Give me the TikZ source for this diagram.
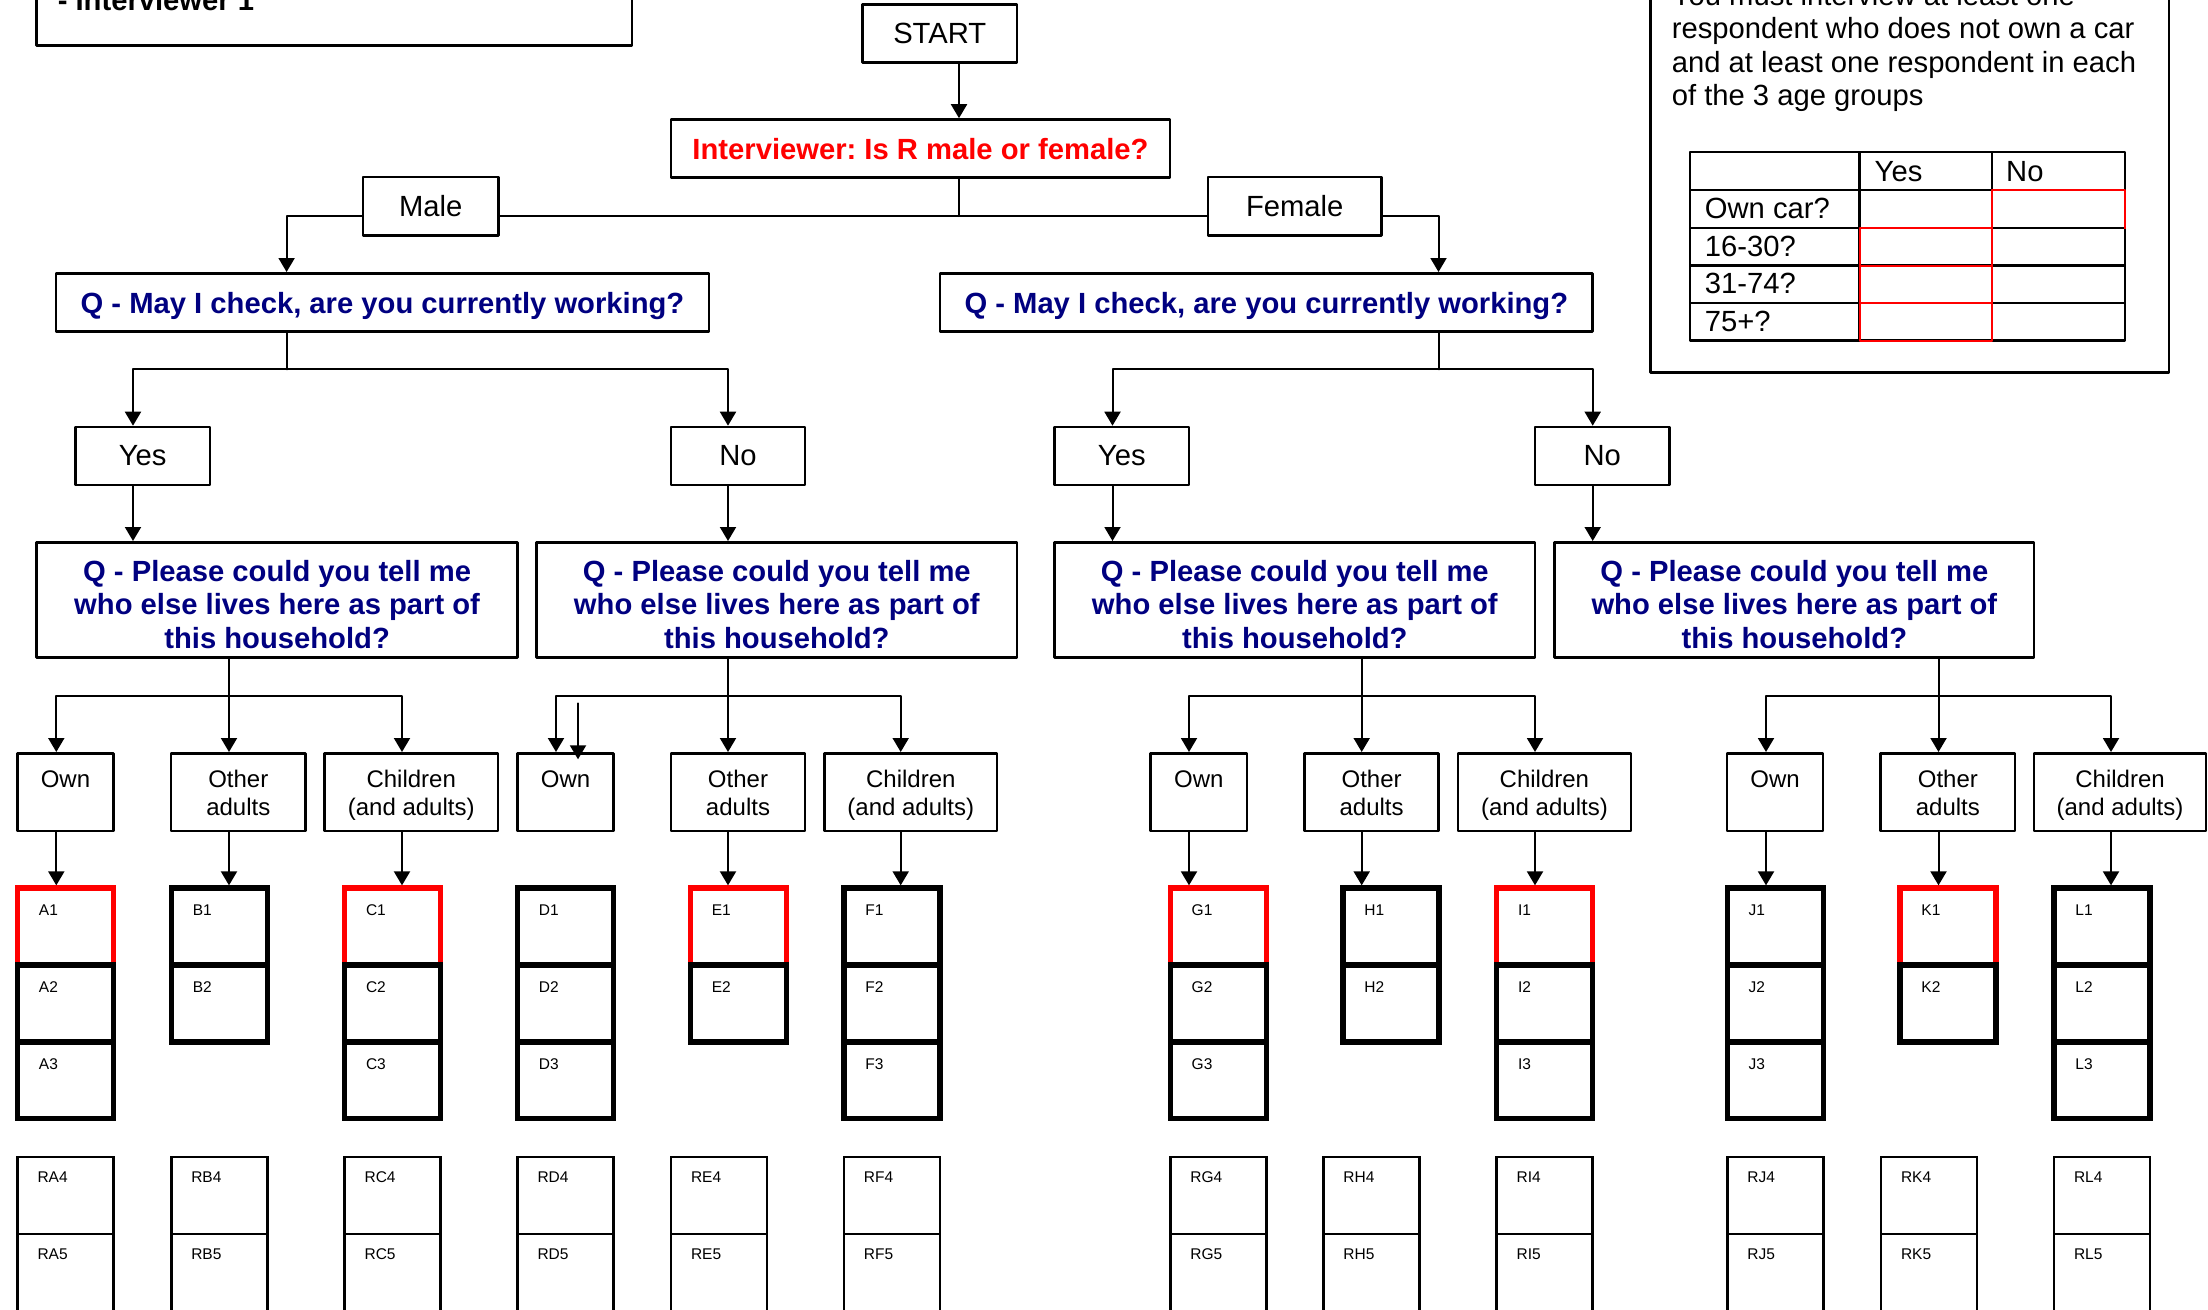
\documentclass[tikz,border=0pt]{standalone}
\usepackage{fontspec}
\setmainfont{Liberation Sans}
\usetikzlibrary{arrows.meta}
\definecolor{navy}{RGB}{0,0,128}
\frenchspacing

\begin{document}
\begin{tikzpicture}[line cap=round,line join=round,>={Triangle[width=16pt,length=14pt]},x=1pt,y=-1pt,
	box/.style={draw,line width=2.6pt,inner sep=0pt,align=center,font=\fontsize{29.2}{33.5}\selectfont},
	qbox/.style={box,text=navy,text depth=0pt,font=\bfseries\fontsize{29.2}{33.5}\selectfont},
	pbox/.style={qbox,text height=96.8pt,minimum height=115.4pt},
	catbox/.style={box,minimum height=77.7pt,text height=47pt,text depth=0pt,font=\fontsize{24}{28}\selectfont},
	cell/.style={draw,line width=5.5pt,line join=miter,inner sep=0pt,minimum width=96pt,minimum height=76.8pt},
	rcell/.style={draw,line width=2.4pt,line join=miter,inner sep=0pt,minimum width=96pt,minimum height=77pt},
	tag/.style={anchor=west,inner sep=0pt,font=\fontsize{15.5}{18}\selectfont},
	txt/.style={anchor=base west,inner sep=0pt,font=\fontsize{29.2}{33.5}\selectfont},
	link/.style={line width=2pt,->},
	wire/.style={line width=2pt},
	tline/.style={line width=2.7pt,line cap=rect},
	tred/.style={line width=2.4pt,draw=red,line cap=rect}]
		\useasboundingbox (0,0) rectangle (2208,1309);
		\clip (0,0) rectangle (2208,1309);
		% frames cut by the page edge
		\draw [line width=2.6pt] (36.6,-20) rectangle (632,45.7);
		\node[txt,font=\bfseries\fontsize{29.2}{33.5}\selectfont] (who) at (57.6,10) {- Interviewer 1};
		\draw [line width=2.6pt] (1650.5,-20) rectangle (2168.8,372.3);
		\node[txt] (rule1) at (1671.6,5.5) {You must interview at least one};
		\node[txt] (rule2) at (1671.6,38.8) {respondent who does not own a car};
		\node[txt] (rule3) at (1671.6,72.1) {and at least one respondent in each};
		\node[txt] (rule4) at (1671.6,105.4) {of the 3 age groups};
		% quota table
		\draw [tline] (1690,152) rectangle (2125,340.7);
		\draw [tline] (1859.8,152) -- (1859.8,340.7);
		\draw [tline] (1992,152) -- (1992,340.7);
		\draw [tline] (1690,190) -- (2125,190);
		\draw [tline] (1690,228) -- (2125,228);
		\draw [tline] (1690,265.7) -- (2125,265.7);
		\draw [tline] (1690,303) -- (2125,303);
		\draw [tred] (1992,228) -- (1992,190) -- (2125,190) -- (2125,228);
		\draw [tred] (1859.8,228) rectangle (1992,340.7);
		\draw [tred] (1859.8,265.7) -- (1992,265.7);
		\draw [tred] (1859.8,303) -- (1992,303);
		\node[txt] (tyes) at (1874.5,181) {Yes};
		\node[txt] (tno) at (2006,181) {No};
		\node[txt] (tcar) at (1704.7,218.3) {Own car?};
		\node[txt] (tage1) at (1704.7,256) {16-30?};
		\node[txt] (tage2) at (1704.7,293.3) {31-74?};
		\node[txt] (tage3) at (1704.7,331) {75+?};
		% questions
		\node[box,minimum width=154.5pt,minimum height=57.6pt] (start) at (939.75,33.5) {START};
		\node[box,text=red,font=\bfseries\fontsize{29.2}{33.5}\selectfont,minimum width=499pt,minimum height=58.2pt] (ask) at (920.5,148.6) {Interviewer: Is R male or female?};
		\node[box,minimum width=135.6pt,minimum height=58.7pt] (male) at (430.8,206.35) {Male};
		\node[box,minimum width=173.5pt,minimum height=58.7pt] (female) at (1294.75,206.35) {Female};
		\node[qbox,minimum width=653pt,minimum height=58.4pt] (qm) at (382.5,302.5) {Q - May I check, are you currently working?};
		\node[qbox,minimum width=652.7pt,minimum height=58.4pt] (qf) at (1266.35,302.5) {Q - May I check, are you currently working?};
		\node[box,minimum width=134.6pt,minimum height=58pt] (yes1) at (142.7,456) {Yes};
		\node[box,minimum width=134pt,minimum height=58pt] (no1) at (738,456) {No};
		\node[box,minimum width=134.4pt,minimum height=58pt] (yes2) at (1121.8,456) {Yes};
		\node[box,minimum width=134.5pt,minimum height=58pt] (no2) at (1602.25,456) {No};
		\node[pbox,minimum width=481pt] (p1) at (277.1,600) {Q - Please could you tell me\\who else lives here as part of\\this household?};
		\node[pbox,minimum width=480.4pt] (p2) at (776.8,600) {Q - Please could you tell me\\who else lives here as part of\\this household?};
		\node[pbox,minimum width=480.4pt] (p3) at (1294.8,600) {Q - Please could you tell me\\who else lives here as part of\\this household?};
		\node[pbox,minimum width=479.3pt] (p4) at (1794.35,600) {Q - Please could you tell me\\who else lives here as part of\\this household?};
		% household members
		\node[catbox,minimum width=95.8pt] (own1) at (65.5,792.15) {Own\\\mbox{}};
		\node[catbox,minimum width=134.6pt] (oth1) at (238.3,792.15) {Other\\adults};
		\node[catbox,minimum width=173.3pt] (chd1) at (411.25,792.15) {Children\\(and adults)};
		\node[catbox,minimum width=95.8pt] (own2) at (565.5,792.15) {Own\\\mbox{}};
		\node[catbox,minimum width=134pt] (oth2) at (738,792.15) {Other\\adults};
		\node[catbox,minimum width=172.4pt] (chd2) at (910.8,792.15) {Children\\(and adults)};
		\node[catbox,minimum width=96.5pt] (own3) at (1198.75,792.15) {Own\\\mbox{}};
		\node[catbox,minimum width=133.8pt] (oth3) at (1371.6,792.15) {Other\\adults};
		\node[catbox,minimum width=172.8pt] (chd3) at (1544.4,792.15) {Children\\(and adults)};
		\node[catbox,minimum width=96pt] (own4) at (1775,792.15) {Own\\\mbox{}};
		\node[catbox,minimum width=134.3pt] (oth4) at (1947.85,792.15) {Other\\adults};
		\node[catbox,minimum width=172pt] (chd4) at (2120,792.15) {Children\\(and adults)};
		% junction points
		\coordinate (split) at (959,216);
		\coordinate (mdrop) at (286.6,216);
		\coordinate (fdrop) at (1438.5,216);
		\coordinate (mfork) at (286.6,369.3);
		\coordinate (myes) at (133,369.3);
		\coordinate (mno) at (728,369.3);
		\coordinate (ffork) at (1438.5,369.3);
		\coordinate (fyes) at (1112.5,369.3);
		\coordinate (fno) at (1592.7,369.3);
		\coordinate (fk1) at (229,695.7);
		\coordinate (fk1l) at (56.3,695.7);
		\coordinate (fk1r) at (402,695.7);
		\coordinate (fk2) at (728,695.7);
		\coordinate (fk2l) at (556,695.7);
		\coordinate (fk2r) at (900.7,695.7);
		\coordinate (fk3) at (1361.7,695.7);
		\coordinate (fk3l) at (1189,695.7);
		\coordinate (fk3r) at (1535,695.7);
		\coordinate (fk4) at (1938.5,695.7);
		\coordinate (fk4l) at (1766,695.7);
		\coordinate (fk4r) at (2111,695.7);
		\coordinate (st0) at (578,703.3);
		\coordinate (st1) at (578,759.3);
		% connectors
		\draw [link] (start.south -| split) -- (ask.north -| split);
		\draw [wire] (ask.south -| split) -- (split);
		\draw [wire] (male.east |- split) -- (female.west |- split);
		\draw [link] (male.west |- mdrop) -- (mdrop) -- (qm.north -| mdrop);
		\draw [link] (female.east |- fdrop) -- (fdrop) -- (qf.north -| fdrop);
		\draw [wire] (qm.south -| mfork) -- (mfork);
		\draw [link] (mfork) -- (myes) -- (yes1.north -| myes);
		\draw [link] (mfork) -- (mno) -- (no1.north -| mno);
		\draw [wire] (qf.south -| ffork) -- (ffork);
		\draw [link] (ffork) -- (fyes) -- (yes2.north -| fyes);
		\draw [link] (ffork) -- (fno) -- (no2.north -| fno);
		\draw [link] (yes1.south -| myes) -- (p1.north -| myes);
		\draw [link] (no1.south -| mno) -- (p2.north -| mno);
		\draw [link] (yes2.south -| fyes) -- (p3.north -| fyes);
		\draw [link] (no2.south -| fno) -- (p4.north -| fno);
		\draw [link] (p1.south -| fk1) -- (oth1.north -| fk1);
		\draw [link] (fk1) -- (fk1l) -- (own1.north -| fk1l);
		\draw [link] (fk1) -- (fk1r) -- (chd1.north -| fk1r);
		\draw [link] (p2.south -| fk2) -- (oth2.north -| fk2);
		\draw [link] (fk2) -- (fk2l) -- (own2.north -| fk2l);
		\draw [link] (fk2) -- (fk2r) -- (chd2.north -| fk2r);
		\draw [link] (st0) -- (st1);
		\draw [link] (p3.south -| fk3) -- (oth3.north -| fk3);
		\draw [link] (fk3) -- (fk3l) -- (own3.north -| fk3l);
		\draw [link] (fk3) -- (fk3r) -- (chd3.north -| fk3r);
		\draw [link] (p4.south -| fk4) -- (oth4.north -| fk4);
		\draw [link] (fk4) -- (fk4l) -- (own4.north -| fk4l);
		\draw [link] (fk4) -- (fk4r) -- (chd4.north -| fk4r);
		% tally cells
		\node[cell,draw=red] (a1) at (65.5,926.5) {};
		\node[cell] (a2) at (65.5,1003.4) {};
		\node[cell] (a3) at (65.5,1080.1) {};
		\node[cell] (b1) at (219.35,926.5) {};
		\node[cell] (b2) at (219.35,1003.4) {};
		\node[cell,draw=red] (c1) at (392.6,926.5) {};
		\node[cell] (c2) at (392.6,1003.4) {};
		\node[cell] (c3) at (392.6,1080.1) {};
		\node[cell] (d1) at (565.5,926.5) {};
		\node[cell] (d2) at (565.5,1003.4) {};
		\node[cell] (d3) at (565.5,1080.1) {};
		\node[cell,draw=red] (e1) at (738.3,926.5) {};
		\node[cell] (e2) at (738.3,1003.4) {};
		\node[cell] (f1) at (891.85,926.5) {};
		\node[cell] (f2) at (891.85,1003.4) {};
		\node[cell] (f3) at (891.85,1080.1) {};
		\node[cell,draw=red] (g1) at (1218.25,926.5) {};
		\node[cell] (g2) at (1218.25,1003.4) {};
		\node[cell] (g3) at (1218.25,1080.1) {};
		\node[cell] (h1) at (1391,926.5) {};
		\node[cell] (h2) at (1391,1003.4) {};
		\node[cell,draw=red] (i1) at (1544.55,926.5) {};
		\node[cell] (i2) at (1544.55,1003.4) {};
		\node[cell] (i3) at (1544.55,1080.1) {};
		\node[cell] (j1) at (1775.25,926.5) {};
		\node[cell] (j2) at (1775.25,1003.4) {};
		\node[cell] (j3) at (1775.25,1080.1) {};
		\node[cell,draw=red] (k1) at (1948,926.5) {};
		\node[cell] (k2) at (1948,1003.4) {};
		\node[cell] (l1) at (2102,926.5) {};
		\node[cell] (l2) at (2102,1003.4) {};
		\node[cell] (l3) at (2102,1080.1) {};
		\draw [link] (own1.south -| fk1l) -- (a1.north -| fk1l);
		\draw [link] (oth1.south -| fk1) -- (b1.north -| fk1);
		\draw [link] (chd1.south -| fk1r) -- (c1.north -| fk1r);
		\draw [link] (oth2.south -| fk2) -- (e1.north -| fk2);
		\draw [link] (chd2.south -| fk2r) -- (f1.north -| fk2r);
		\draw [link] (own3.south -| fk3l) -- (g1.north -| fk3l);
		\draw [link] (oth3.south -| fk3) -- (h1.north -| fk3);
		\draw [link] (chd3.south -| fk3r) -- (i1.north -| fk3r);
		\draw [link] (own4.south -| fk4l) -- (j1.north -| fk4l);
		\draw [link] (oth4.south -| fk4) -- (k1.north -| fk4);
		\draw [link] (chd4.south -| fk4r) -- (l1.north -| fk4r);
		\node[tag] (a1t) at ([shift={(24,25)}]a1.north west) {A1};
		\node[tag] (a2t) at ([shift={(24,25)}]a2.north west) {A2};
		\node[tag] (a3t) at ([shift={(24,25)}]a3.north west) {A3};
		\node[tag] (b1t) at ([shift={(24,25)}]b1.north west) {B1};
		\node[tag] (b2t) at ([shift={(24,25)}]b2.north west) {B2};
		\node[tag] (c1t) at ([shift={(24,25)}]c1.north west) {C1};
		\node[tag] (c2t) at ([shift={(24,25)}]c2.north west) {C2};
		\node[tag] (c3t) at ([shift={(24,25)}]c3.north west) {C3};
		\node[tag] (d1t) at ([shift={(24,25)}]d1.north west) {D1};
		\node[tag] (d2t) at ([shift={(24,25)}]d2.north west) {D2};
		\node[tag] (d3t) at ([shift={(24,25)}]d3.north west) {D3};
		\node[tag] (e1t) at ([shift={(24,25)}]e1.north west) {E1};
		\node[tag] (e2t) at ([shift={(24,25)}]e2.north west) {E2};
		\node[tag] (f1t) at ([shift={(24,25)}]f1.north west) {F1};
		\node[tag] (f2t) at ([shift={(24,25)}]f2.north west) {F2};
		\node[tag] (f3t) at ([shift={(24,25)}]f3.north west) {F3};
		\node[tag] (g1t) at ([shift={(24,25)}]g1.north west) {G1};
		\node[tag] (g2t) at ([shift={(24,25)}]g2.north west) {G2};
		\node[tag] (g3t) at ([shift={(24,25)}]g3.north west) {G3};
		\node[tag] (h1t) at ([shift={(24,25)}]h1.north west) {H1};
		\node[tag] (h2t) at ([shift={(24,25)}]h2.north west) {H2};
		\node[tag] (i1t) at ([shift={(24,25)}]i1.north west) {I1};
		\node[tag] (i2t) at ([shift={(24,25)}]i2.north west) {I2};
		\node[tag] (i3t) at ([shift={(24,25)}]i3.north west) {I3};
		\node[tag] (j1t) at ([shift={(24,25)}]j1.north west) {J1};
		\node[tag] (j2t) at ([shift={(24,25)}]j2.north west) {J2};
		\node[tag] (j3t) at ([shift={(24,25)}]j3.north west) {J3};
		\node[tag] (k1t) at ([shift={(24,25)}]k1.north west) {K1};
		\node[tag] (k2t) at ([shift={(24,25)}]k2.north west) {K2};
		\node[tag] (l1t) at ([shift={(24,25)}]l1.north west) {L1};
		\node[tag] (l2t) at ([shift={(24,25)}]l2.north west) {L2};
		\node[tag] (l3t) at ([shift={(24,25)}]l3.north west) {L3};
		% reserve cells
		\node[rcell] (ra4) at (65.5,1195.2) {};
		\node[rcell] (ra5) at (65.5,1272.2) {};
		\node[rcell] (rb4) at (219.3,1195.2) {};
		\node[rcell] (rb5) at (219.3,1272.2) {};
		\node[rcell] (rc4) at (392.6,1195.2) {};
		\node[rcell] (rc5) at (392.6,1272.2) {};
		\node[rcell] (rd4) at (565.5,1195.2) {};
		\node[rcell] (rd5) at (565.5,1272.2) {};
		\node[rcell] (re4) at (719,1195.2) {};
		\node[rcell] (re5) at (719,1272.2) {};
		\node[rcell] (rf4) at (891.85,1195.2) {};
		\node[rcell] (rf5) at (891.85,1272.2) {};
		\node[rcell] (rg4) at (1218.4,1195.2) {};
		\node[rcell] (rg5) at (1218.4,1272.2) {};
		\node[rcell] (rh4) at (1371.35,1195.2) {};
		\node[rcell] (rh5) at (1371.35,1272.2) {};
		\node[rcell] (ri4) at (1544.55,1195.2) {};
		\node[rcell] (ri5) at (1544.55,1272.2) {};
		\node[rcell] (rj4) at (1775.3,1195.2) {};
		\node[rcell] (rj5) at (1775.3,1272.2) {};
		\node[rcell] (rk4) at (1929,1195.2) {};
		\node[rcell] (rk5) at (1929,1272.2) {};
		\node[rcell] (rl4) at (2102,1195.2) {};
		\node[rcell] (rl5) at (2102,1272.2) {};
		\node[tag] (ra4t) at ([shift={(21,22)}]ra4.north west) {RA4};
		\node[tag] (ra5t) at ([shift={(21,22)}]ra5.north west) {RA5};
		\node[tag] (rb4t) at ([shift={(21,22)}]rb4.north west) {RB4};
		\node[tag] (rb5t) at ([shift={(21,22)}]rb5.north west) {RB5};
		\node[tag] (rc4t) at ([shift={(21,22)}]rc4.north west) {RC4};
		\node[tag] (rc5t) at ([shift={(21,22)}]rc5.north west) {RC5};
		\node[tag] (rd4t) at ([shift={(21,22)}]rd4.north west) {RD4};
		\node[tag] (rd5t) at ([shift={(21,22)}]rd5.north west) {RD5};
		\node[tag] (re4t) at ([shift={(21,22)}]re4.north west) {RE4};
		\node[tag] (re5t) at ([shift={(21,22)}]re5.north west) {RE5};
		\node[tag] (rf4t) at ([shift={(21,22)}]rf4.north west) {RF4};
		\node[tag] (rf5t) at ([shift={(21,22)}]rf5.north west) {RF5};
		\node[tag] (rg4t) at ([shift={(21,22)}]rg4.north west) {RG4};
		\node[tag] (rg5t) at ([shift={(21,22)}]rg5.north west) {RG5};
		\node[tag] (rh4t) at ([shift={(21,22)}]rh4.north west) {RH4};
		\node[tag] (rh5t) at ([shift={(21,22)}]rh5.north west) {RH5};
		\node[tag] (ri4t) at ([shift={(21,22)}]ri4.north west) {RI4};
		\node[tag] (ri5t) at ([shift={(21,22)}]ri5.north west) {RI5};
		\node[tag] (rj4t) at ([shift={(21,22)}]rj4.north west) {RJ4};
		\node[tag] (rj5t) at ([shift={(21,22)}]rj5.north west) {RJ5};
		\node[tag] (rk4t) at ([shift={(21,22)}]rk4.north west) {RK4};
		\node[tag] (rk5t) at ([shift={(21,22)}]rk5.north west) {RK5};
		\node[tag] (rl4t) at ([shift={(21,22)}]rl4.north west) {RL4};
		\node[tag] (rl5t) at ([shift={(21,22)}]rl5.north west) {RL5};
	\end{tikzpicture}
\end{document}
